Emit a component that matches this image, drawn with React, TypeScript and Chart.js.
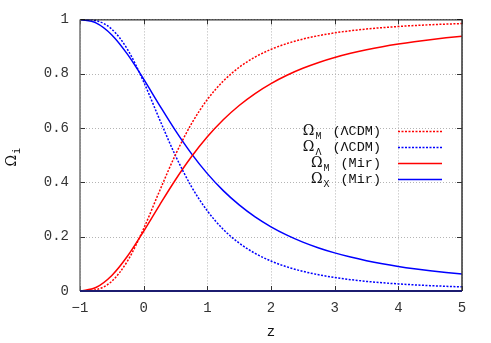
import { useEffect, useRef } from "react";
import { Chart, registerables } from "chart.js";

Chart.register(...registerables);

const zValues = [-1, -0.75, -0.5, -0.25, 0, 0.25, 0.5, 0.75, 1, 1.25, 1.5, 1.75, 2, 2.25, 2.5, 2.75, 3, 3.25, 3.5, 3.75, 4, 4.25, 4.5, 4.75, 5];

const omegaMLcdm = [0, 0.0047, 0.036, 0.1119, 0.23, 0.3684, 0.502, 0.6155, 0.705, 0.7729, 0.8236, 0.8614, 0.8897, 0.9111, 0.9276, 0.9403, 0.9503, 0.9582, 0.9646, 0.9697, 0.9739, 0.9774, 0.9803, 0.9827, 0.9847];
const omegaLLcdm = [1, 0.9953, 0.964, 0.8881, 0.77, 0.6316, 0.498, 0.3845, 0.295, 0.2271, 0.1764, 0.1386, 0.1103, 0.0889, 0.0724, 0.0597, 0.0497, 0.0418, 0.0354, 0.0303, 0.0261, 0.0226, 0.0197, 0.0173, 0.0153];
const omegaMMir = [0, 0.0128, 0.0571, 0.1296, 0.22, 0.3164, 0.4096, 0.4941, 0.5678, 0.6305, 0.6831, 0.7271, 0.7637, 0.7943, 0.8199, 0.8414, 0.8596, 0.875, 0.8883, 0.8997, 0.9095, 0.918, 0.9254, 0.932, 0.9377];
const omegaXMir = [1, 0.9872, 0.9429, 0.8704, 0.78, 0.6836, 0.5904, 0.5059, 0.4322, 0.3695, 0.3169, 0.2729, 0.2363, 0.2057, 0.1801, 0.1586, 0.1404, 0.125, 0.1117, 0.1003, 0.0905, 0.082, 0.0746, 0.068, 0.0623];

const seriesLabels = ["Ω_M (ΛCDM)", "Ω_Λ (ΛCDM)", "Ω_M (Mir)", "Ω_X (Mir)"];
const xTicks = [-1, 0, 1, 2, 3, 4, 5];
const yTicks = [0, 0.2, 0.4, 0.6, 0.8, 1];
const xTitle = "z";
const yTitleBase = "Ω";
const yTitleSub = "i";

const MONO = '"Liberation Mono", "DejaVu Sans Mono", monospace';
const SERIF = '"DejaVu Serif", "Liberation Serif", serif';

function pts(vals: number[]) {
  return zValues.map((z, i) => ({ x: z, y: vals[i] }));
}

function fmtTick(v: number) {
  if (v < 0) return "\u2212" + String(Math.abs(v));
  if (Number.isInteger(v)) return String(v);
  return v.toFixed(1);
}

const framePlugin = {
  id: "gnuplotFrame",
  beforeDatasetsDraw(chart: any) {
    const { ctx, chartArea: a, scales } = chart;
    const x = scales.x;
    const y = scales.y;
    ctx.save();
    ctx.strokeStyle = "#b4b4b4";
    ctx.lineWidth = 1;
    ctx.setLineDash([1, 2]);
    xTicks.forEach((v) => {
      const px = Math.round(x.getPixelForValue(v)) + 0.5;
      ctx.beginPath();
      ctx.moveTo(px, a.top);
      ctx.lineTo(px, a.bottom);
      ctx.stroke();
    });
    yTicks.forEach((v) => {
      const py = Math.round(y.getPixelForValue(v)) + 0.5;
      ctx.beginPath();
      ctx.moveTo(a.left, py);
      ctx.lineTo(a.right, py);
      ctx.stroke();
    });
    ctx.restore();
  },
  afterDatasetsDraw(chart: any) {
    const { ctx, chartArea: a, scales } = chart;
    const x = scales.x;
    const y = scales.y;
    ctx.save();
    ctx.setLineDash([]);
    // tick marks (inward, mirrored)
    ctx.strokeStyle = "#333";
    ctx.lineWidth = 1;
    const tl = 5;
    xTicks.forEach((v) => {
      const px = Math.round(x.getPixelForValue(v)) + 0.5;
      ctx.beginPath();
      ctx.moveTo(px, a.bottom);
      ctx.lineTo(px, a.bottom - tl);
      ctx.moveTo(px, a.top);
      ctx.lineTo(px, a.top + tl);
      ctx.stroke();
    });
    yTicks.forEach((v) => {
      const py = Math.round(y.getPixelForValue(v)) + 0.5;
      ctx.beginPath();
      ctx.moveTo(a.left, py);
      ctx.lineTo(a.left + tl, py);
      ctx.moveTo(a.right, py);
      ctx.lineTo(a.right - tl, py);
      ctx.stroke();
    });
    // borders
    const line = (x1: number, y1: number, x2: number, y2: number, c: string, w: number) => {
      ctx.strokeStyle = c;
      ctx.lineWidth = w;
      ctx.beginPath();
      ctx.moveTo(x1, y1);
      ctx.lineTo(x2, y2);
      ctx.stroke();
    };
    line(a.left, a.top + 0.5, a.right, a.top + 0.5, "#000", 1);
    line(a.right, a.top, a.right, a.bottom, "#333", 1.5);
    line(a.left, a.top, a.left, a.bottom, "#707070", 1.5);
    line(a.left, a.bottom, a.right, a.bottom, "#1c1c70", 2);

    // legend
    const rowY = [131, 147, 163, 179];
    const textRight = 381;
    const sampleL = 398;
    const sampleR = 442;
    chart.data.datasets.forEach((ds: any, i: number) => {
      const label: string = ds.label;
      const sp = label.indexOf(" ");
      const head = label.slice(0, sp);
      const rest = label.slice(sp + 1);
      const [base, sub] = head.split("_");
      const yy = rowY[i];
      ctx.textBaseline = "middle";
      ctx.textAlign = "left";
      ctx.font = "13.5px " + MONO;
      const wRest = ctx.measureText(rest).width;
      ctx.font = "10px " + MONO;
      const wSub = ctx.measureText(sub).width;
      ctx.font = "14px " + SERIF;
      const wBase = ctx.measureText(base).width;
      const gap = 11;
      let cx = textRight - (wBase + 1 + wSub + gap + wRest);
      ctx.fillStyle = "#111";
      ctx.font = "14px " + SERIF;
      ctx.fillText(base, cx, yy);
      cx += wBase + 1;
      ctx.font = "10px " + MONO;
      ctx.fillText(sub, cx, yy + 5);
      cx += wSub + gap;
      ctx.font = "13.5px " + MONO;
      ctx.fillText(rest, cx, yy);
      ctx.strokeStyle = ds.borderColor;
      ctx.lineWidth = ds.borderWidth;
      ctx.setLineDash(ds.borderDash || []);
      ctx.beginPath();
      ctx.moveTo(sampleL, yy + 0.5);
      ctx.lineTo(sampleR, yy + 0.5);
      ctx.stroke();
      ctx.setLineDash([]);
    });

    // axis titles
    ctx.fillStyle = "#111";
    ctx.textAlign = "center";
    ctx.textBaseline = "middle";
    ctx.font = "14px " + MONO;
    ctx.fillText(xTitle, (a.left + a.right) / 2, 332);

    ctx.save();
    ctx.translate(12, (a.top + a.bottom) / 2 + 2);
    ctx.rotate(-Math.PI / 2);
    ctx.font = "14px " + SERIF;
    const wb = ctx.measureText(yTitleBase).width;
    ctx.font = "10px " + MONO;
    const ws = ctx.measureText(yTitleSub).width;
    const start = -(wb + 1 + ws) / 2;
    ctx.textAlign = "left";
    ctx.font = "14px " + SERIF;
    ctx.fillText(yTitleBase, start, 0);
    ctx.font = "10px " + MONO;
    ctx.fillText(yTitleSub, start + wb + 1, 5);
    ctx.restore();

    ctx.restore();
  },
};

export default function App() {
  const ref = useRef<HTMLCanvasElement | null>(null);
  useEffect(() => {
    if (!ref.current) return;
    const common = { pointRadius: 0, fill: false, cubicInterpolationMode: "monotone" as const };
    const chart = new Chart(ref.current, {
      type: "line",
      data: {
        datasets: [
          { ...common, label: seriesLabels[0], data: pts(omegaMLcdm), borderColor: "#ff0000", borderWidth: 1.5, borderDash: [2, 1.5] },
          { ...common, label: seriesLabels[1], data: pts(omegaLLcdm), borderColor: "#0000ff", borderWidth: 1.5, borderDash: [2, 1.5] },
          { ...common, label: seriesLabels[2], data: pts(omegaMMir), borderColor: "#ff0000", borderWidth: 1.5 },
          { ...common, label: seriesLabels[3], data: pts(omegaXMir), borderColor: "#0000ff", borderWidth: 1.5 },
        ],
      },
      options: {
        responsive: false,
        animation: false,
        devicePixelRatio: 1,
        layout: { padding: { top: 19, right: 29, left: 0, bottom: 0 } },
        plugins: { legend: { display: false }, tooltip: { enabled: false } },
        scales: {
          x: {
            type: "linear",
            min: -1,
            max: 5,
            afterBuildTicks: (s: any) => {
              s.ticks = xTicks.map((v) => ({ value: v }));
            },
            afterFit: (s: any) => {
              s.height = 52;
            },
            grid: { display: false, drawTicks: false },
            border: { display: false },
            ticks: {
              padding: 9,
              color: "#333",
              font: { family: MONO, size: 14 },
              maxRotation: 0,
              callback: (v: any) => fmtTick(Number(v)),
            },
          },
          y: {
            type: "linear",
            min: 0,
            max: 1,
            afterBuildTicks: (s: any) => {
              s.ticks = yTicks.map((v) => ({ value: v }));
            },
            afterFit: (s: any) => {
              s.width = 80;
            },
            grid: { display: false, drawTicks: false },
            border: { display: false },
            ticks: {
              padding: 11,
              color: "#333",
              font: { family: MONO, size: 14 },
              callback: (v: any) => fmtTick(Number(v)),
            },
          },
        },
      },
      plugins: [framePlugin],
    });
    return () => chart.destroy();
  }, []);
  return (
    <div style={{ position: "absolute", left: 0, top: 0, width: 491, height: 343, background: "#fff" }}>
      <canvas ref={ref} width={491} height={343} style={{ width: 491, height: 343, display: "block" }} />
    </div>
  );
}
